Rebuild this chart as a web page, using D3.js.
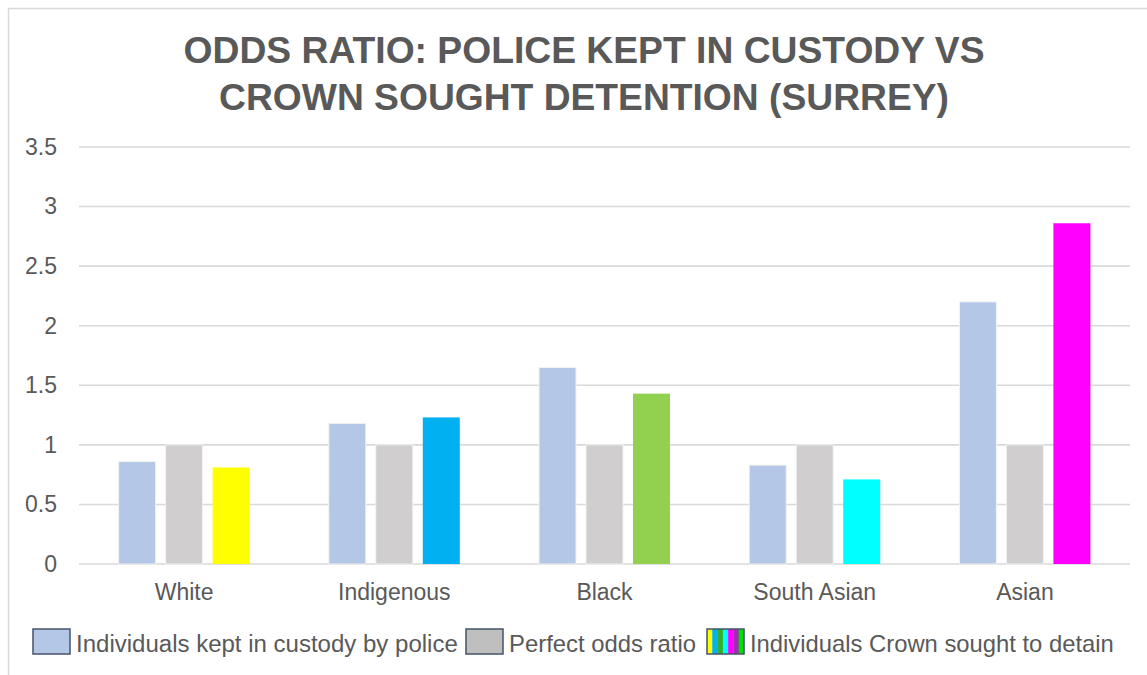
<!DOCTYPE html>
<html>
<head>
<meta charset="utf-8">
<script src="https://cdn.jsdelivr.net/npm/d3@7"></script>
<style>
  body { margin: 0; background: #fff; }
  svg { display: block; font-family: Arial, "Liberation Sans", sans-serif; }
</style>
</head>
<body>
<svg id="chart" width="1147" height="675"></svg>
<script>
const titleLines = ["ODDS RATIO: POLICE KEPT IN CUSTODY VS", "CROWN SOUGHT DETENTION (SURREY)"];
const categories = ["White", "Indigenous", "Black", "South Asian", "Asian"];
const seriesNames = ["Individuals kept in custody by police", "Perfect odds ratio", "Individuals Crown sought to detain"];
const policeValues = [0.86, 1.18, 1.65, 0.83, 2.2];
const perfectValues = [1, 1, 1, 1, 1];
const crownValues = [0.81, 1.23, 1.43, 0.71, 2.86];
const yTicks = [0, 0.5, 1, 1.5, 2, 2.5, 3, 3.5];
const policeColor = "#B4C7E7";
const perfectColor = "#D0CECE";
const crownColors = ["#FFFF00", "#00B0F0", "#92D050", "#00FFFF", "#FF00FF"];
const legendStripeColors = ["#FFFF00", "#00B0F0", "#33B02A", "#00FFFF", "#FF00FF", "#9B2FAE", "#00E000"];

const svg = d3.select("#chart");
const textColor = "#595959";

function fitWidth(sel, target) {
  sel.each(function() {
    const el = d3.select(this);
    el.attr("font-size", 100);
    const w = this.getComputedTextLength();
    el.attr("font-size", (100 * target / w).toFixed(2));
  });
}

// outer border
svg.append("rect").attr("x", 8.5).attr("y", 8.5).attr("width", 1200).attr("height", 700)
  .attr("fill", "none").attr("stroke", "#D9D9D9").attr("stroke-width", 1.5);

// title
const titleWidths = [801, 730];
const titleBase = [63, 110];
svg.append("g").selectAll("text").data(titleLines).join("text")
  .attr("x", 584)
  .attr("y", (d, i) => titleBase[i])
  .attr("text-anchor", "middle")
  .attr("font-weight", "bold")
  .attr("fill", textColor)
  .text(d => d)
  .each(function(d, i) { fitWidth(d3.select(this), titleWidths[i]); });

// scales
const x0 = d3.scaleBand().domain(categories).range([79, 1130]).paddingInner(0).paddingOuter(0);
const x1 = d3.scaleBand().domain([0, 1, 2]).range([0, x0.bandwidth()]).paddingInner(0.213).paddingOuter(0.843);
const y = d3.scaleLinear().domain([0, 3.5]).range([564, 147]);

// gridlines
svg.append("g").selectAll("line").data(yTicks).join("line")
  .attr("x1", 79).attr("x2", 1130)
  .attr("y1", d => y(d)).attr("y2", d => y(d))
  .attr("stroke", "#D9D9D9").attr("stroke-width", 1.6);

// y axis labels
const yAxis = d3.axisLeft(y).tickValues(yTicks).tickSize(0).tickPadding(0).tickFormat(d => String(d));
const yg = svg.append("g").attr("transform", "translate(57,0)").call(yAxis);
yg.select(".domain").remove();
yg.selectAll("text").attr("font-size", 23).attr("fill", textColor).attr("font-family", "Arial, 'Liberation Sans', sans-serif");

// x axis labels
const xAxis = d3.axisBottom(x0).tickSize(0).tickPadding(0);
const xg = svg.append("g").attr("transform", "translate(0,584)").call(xAxis);
xg.select(".domain").remove();
xg.selectAll("text").attr("font-size", 23).attr("fill", textColor).attr("dy", "0.71em").attr("font-family", "Arial, 'Liberation Sans', sans-serif");

// bars
const rows = categories.map((c, i) => ({
  cat: c,
  vals: [
    { s: 0, v: policeValues[i], color: policeColor },
    { s: 1, v: perfectValues[i], color: perfectColor },
    { s: 2, v: crownValues[i], color: crownColors[i] }
  ]
}));
const groups = svg.append("g").selectAll("g").data(rows).join("g")
  .attr("transform", d => `translate(${x0(d.cat)},0)`);
groups.selectAll("rect").data(d => d.vals).join("rect")
  .attr("x", d => x1(d.s))
  .attr("width", x1.bandwidth())
  .attr("y", d => y(d.v))
  .attr("height", d => y(0) - y(d.v))
  .attr("fill", d => d.color)
  .attr("stroke", d => d.s === 2 ? "none" : "#F2F2F2")
  .attr("stroke-width", 1);

// legend
const legend = svg.append("g");
const legendBoxX = [33, 466, 707];
const legendTextX = [76, 509, 750];
const legendTextW = [382, 187, 364];
const boxW = 37, boxH = 25, boxY = 629;

legend.append("rect").attr("x", legendBoxX[0]).attr("y", boxY).attr("width", boxW).attr("height", boxH)
  .attr("fill", policeColor).attr("stroke", "#44546A").attr("stroke-width", 1.5);
legend.append("rect").attr("x", legendBoxX[1]).attr("y", boxY).attr("width", boxW).attr("height", boxH)
  .attr("fill", "#BFBFBF").attr("stroke", "#44546A").attr("stroke-width", 1.5);
const stripeW = boxW / legendStripeColors.length;
legend.append("g").selectAll("rect").data(legendStripeColors).join("rect")
  .attr("x", (d, i) => legendBoxX[2] + i * stripeW)
  .attr("y", boxY).attr("width", stripeW + 0.3).attr("height", boxH)
  .attr("fill", d => d);
legend.append("rect").attr("x", legendBoxX[2]).attr("y", boxY).attr("width", boxW).attr("height", boxH)
  .attr("fill", "none").attr("stroke", "#44546A").attr("stroke-width", 1.5);

legend.selectAll("text").data(seriesNames).join("text")
  .attr("x", (d, i) => legendTextX[i])
  .attr("y", 652)
  .attr("fill", textColor)
  .text(d => d)
  .each(function(d, i) { fitWidth(d3.select(this), legendTextW[i]); });
</script>
</body>
</html>
